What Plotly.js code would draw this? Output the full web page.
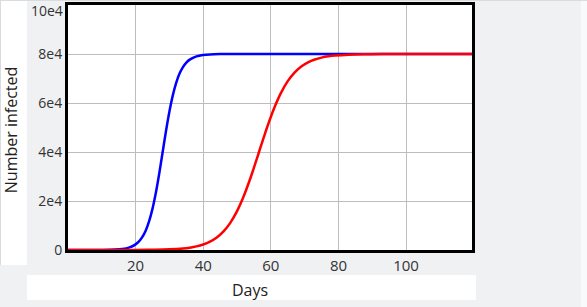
<!DOCTYPE html>
<html>
<head>
<meta charset="utf-8">
<script src="https://cdn.plot.ly/plotly-3.0.1.min.js"></script>
<style>
  html, body { margin: 0; padding: 0; width: 587px; height: 307px; overflow: hidden; background: #f0f1f3; }
  .bg { position: absolute; }
  #chart { position: absolute; left: 0; top: 0; width: 587px; height: 307px; }
</style>
</head>
<body>
<div class="bg" style="left:0;top:0;width:587px;height:1px;background:#d9dbde;"></div>
<div class="bg" style="left:0;top:1px;width:1px;height:264px;background:#d9dbde;"></div>
<div class="bg" style="left:1px;top:1px;width:26px;height:264px;background:#ffffff;"></div>
<div class="bg" style="left:27px;top:275px;width:449px;height:25px;background:#ffffff;"></div>
<div class="bg" style="left:581px;top:1px;width:6px;height:306px;background:#f8f9fa;"></div>
<div id="chart"></div>
<script>
// Days (x) and number infected for the two outbreaks
const daysBlue = [0, 5, 10, 14, 16, 18, 20, 21, 22, 23, 24, 25, 26, 27, 28, 29, 30, 31, 32, 33, 34, 35, 36, 38, 40, 42, 45, 50, 60, 80, 100, 120];
const infectedBlue = [0, 3, 29, 169, 406, 970, 2300, 3510, 5330, 7980, 11750, 16880, 23460, 31340, 40000, 48660, 56540, 63120, 68250, 72020, 74670, 76490, 77700, 79030, 79590, 79830, 79955, 79995, 80000, 80000, 80000, 80000];

const daysRed = [0, 10, 20, 25, 30, 34, 36, 38, 40, 42, 44, 46, 48, 50, 52, 54, 55, 56, 57, 58, 59, 61, 63, 65, 67, 69, 71, 73, 75, 77, 79, 83, 88, 93, 103, 120];
const infectedRed = [0, 4, 31, 92, 268, 630, 963, 1470, 2240, 3390, 5090, 7570, 11080, 15870, 22030, 29500, 33600, 37850, 42150, 46400, 50500, 57970, 64130, 68920, 72430, 74910, 76610, 77760, 78530, 79040, 79370, 79730, 79908, 79969, 79996, 80000];

const yTickVals = [0, 20000, 40000, 60000, 80000, 100000];
const yTickText = ['0', '2e4', '4e4', '6e4', '8e4', '10e4'];
const xTickVals = [20, 40, 60, 80, 100];
const xTitle = 'Days';
const yTitle = 'Number infected';

// the top tick label sits at the very top edge; it is drawn as an annotation so it is not clipped
const lastIdx = yTickVals.length - 1;
const axisTickText = yTickText.map((t, i) => (i === lastIdx ? '' : t));

const traces = [
  { x: daysBlue, y: infectedBlue, type: 'scatter', mode: 'lines',
    line: { color: '#0000ff', width: 2.5, shape: 'spline', smoothing: 1 }, hoverinfo: 'none' },
  { x: daysRed, y: infectedRed, type: 'scatter', mode: 'lines',
    line: { color: '#ff0000', width: 2.5, shape: 'spline', smoothing: 1 }, hoverinfo: 'none' }
];

const layout = {
  width: 587, height: 307, autosize: false,
  margin: { l: 68, r: 115, t: 5, b: 57, pad: 0 },
  paper_bgcolor: 'rgba(0,0,0,0)',
  plot_bgcolor: '#ffffff',
  showlegend: false,
  font: { family: '"Open Sans", sans-serif', color: '#333' },
  xaxis: {
    range: [0, 119.5], tickvals: xTickVals, ticks: '',
    showgrid: true, gridcolor: '#bdbdbd', gridwidth: 1, zeroline: false,
    showline: true, linecolor: '#000', linewidth: 3, mirror: true,
    tickfont: { size: 15, color: '#333' }
  },
  yaxis: {
    range: [0, 100000], tickvals: yTickVals, ticktext: axisTickText, ticks: '',
    showgrid: true, gridcolor: '#bdbdbd', gridwidth: 1, zeroline: false,
    showline: true, linecolor: '#000', linewidth: 3, mirror: true,
    tickfont: { size: 14, color: '#333' }
  },
  annotations: [
    { text: yTickText[lastIdx], xref: 'paper', yref: 'y', x: 0, y: yTickVals[lastIdx],
      xanchor: 'right', yanchor: 'top', xshift: -4, yshift: 5.5, borderpad: 0, showarrow: false,
      font: { size: 14, color: '#333' } },
    { text: xTitle, xref: 'paper', yref: 'paper', x: 0.4498, y: -0.163,
      xanchor: 'center', yanchor: 'middle', showarrow: false,
      font: { size: 16, color: '#222' } },
    { text: yTitle, xref: 'paper', yref: 'paper', x: -0.1405, y: 0.49, textangle: -90,
      xanchor: 'center', yanchor: 'middle', showarrow: false,
      font: { size: 16, color: '#222' } }
  ]
};

Plotly.newPlot('chart', traces, layout, { staticPlot: true, displayModeBar: false });
</script>
</body>
</html>
